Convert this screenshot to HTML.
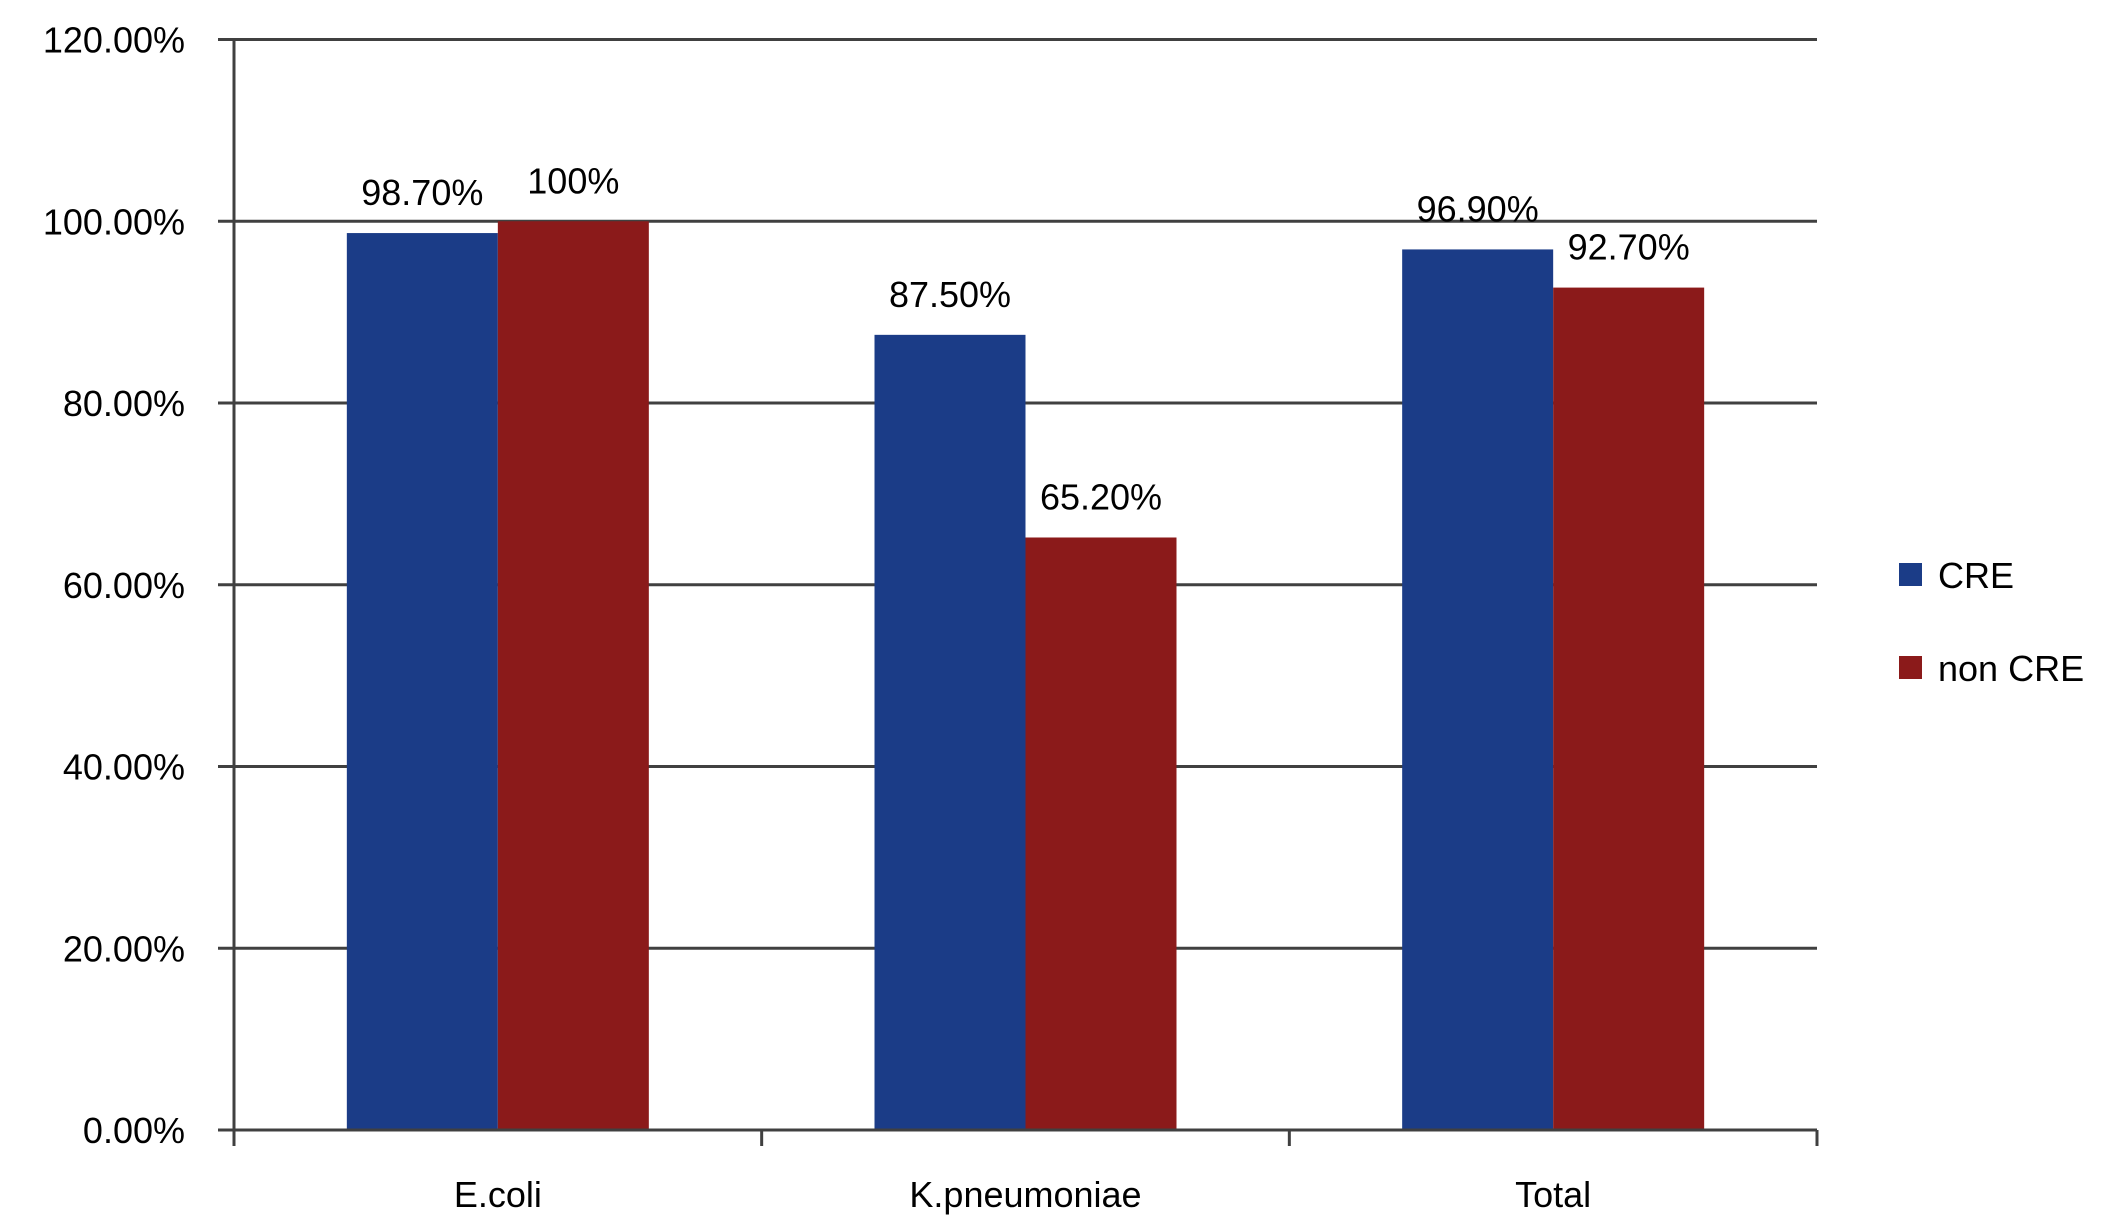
<!DOCTYPE html>
<html><head><meta charset="utf-8"><style>
html,body{margin:0;padding:0;background:#fff;}
svg text{font-family:"Liberation Sans",sans-serif;fill:#000;}
</style></head><body>
<svg id="chart" width="2112" height="1218" viewBox="0 0 2112 1218" xmlns="http://www.w3.org/2000/svg"></svg>
<script>
const categories = ["E.coli","K.pneumoniae","Total"];
const creValues = [98.7, 87.5, 96.9];
const nonCreValues = [100, 65.2, 92.7];
const creLabels = ["98.70%","87.50%","96.90%"];
const nonCreLabels = ["100%","65.20%","92.70%"];
const yTicks = [0,20,40,60,80,100,120];
const yTickLabels = ["0.00%","20.00%","40.00%","60.00%","80.00%","100.00%","120.00%"];
const seriesNames = ["CRE","non CRE"];

const svg = document.getElementById('chart');
const NS = 'http://www.w3.org/2000/svg';
const L=234, R=1817, T=39.5, B=1130, YMAX=120;
const y = v => B - (v/YMAX)*(B-T);
const bandW = (R-L)/categories.length;
const xc = i => L + bandW*(i+0.5);
const BW = 151;
function mk(tag, attrs){const e=document.createElementNS(NS,tag);for(const k in attrs)e.setAttribute(k,attrs[k]);svg.appendChild(e);return e;}

yTicks.forEach((t,i)=>{
  const g = mk('line',{x1:218,x2:R,y1:y(t),y2:y(t),stroke:'#404040','stroke-width':3});
  
  
  const tx = mk('text',{x:185,y:y(t)+13,'text-anchor':'end','font-size':36});
  tx.textContent = yTickLabels[i];
  
  
});
const ya = mk('line',{x1:L,x2:L,y1:T,y2:B,stroke:'#404040','stroke-width':3});


for(let i=0;i<=categories.length;i++){
  const tk = mk('line',{x1:L+bandW*i,x2:L+bandW*i,y1:B,y2:B+16,stroke:'#404040','stroke-width':3});
  
  
}
categories.forEach((c,i)=>{
  const b1 = mk('rect',{x:xc(i)-BW,y:y(creValues[i]),width:BW,height:B-y(creValues[i]),fill:'#1b3c87'});
  
  
  const b2 = mk('rect',{x:xc(i),y:y(nonCreValues[i]),width:BW,height:B-y(nonCreValues[i]),fill:'#8b1a1a'});
  
  
  const l1 = mk('text',{x:xc(i)-BW/2,y:y(creValues[i])-28,'text-anchor':'middle','font-size':36});
  l1.textContent = creLabels[i];
  
  
  const l2 = mk('text',{x:xc(i)+BW/2,y:y(nonCreValues[i])-28,'text-anchor':'middle','font-size':36});
  l2.textContent = nonCreLabels[i];
  
  
  const cl = mk('text',{x:xc(i),y:1207,'text-anchor':'middle','font-size':36});
  cl.textContent = c;
  
  
});
const xa = mk('line',{x1:218,x2:R,y1:B,y2:B,stroke:'#404040','stroke-width':3});


const colors = ['#1b3c87','#8b1a1a'];
seriesNames.forEach((s,i)=>{
  const cy = 575 + i*93;
  const sq = mk('rect',{x:1899,y:cy-12,width:23,height:23,fill:colors[i]});
  
  
  const lt = mk('text',{x:1938,y:cy+13,'font-size':36});
  lt.textContent = s;
  
  
});
</script>
</body></html>
